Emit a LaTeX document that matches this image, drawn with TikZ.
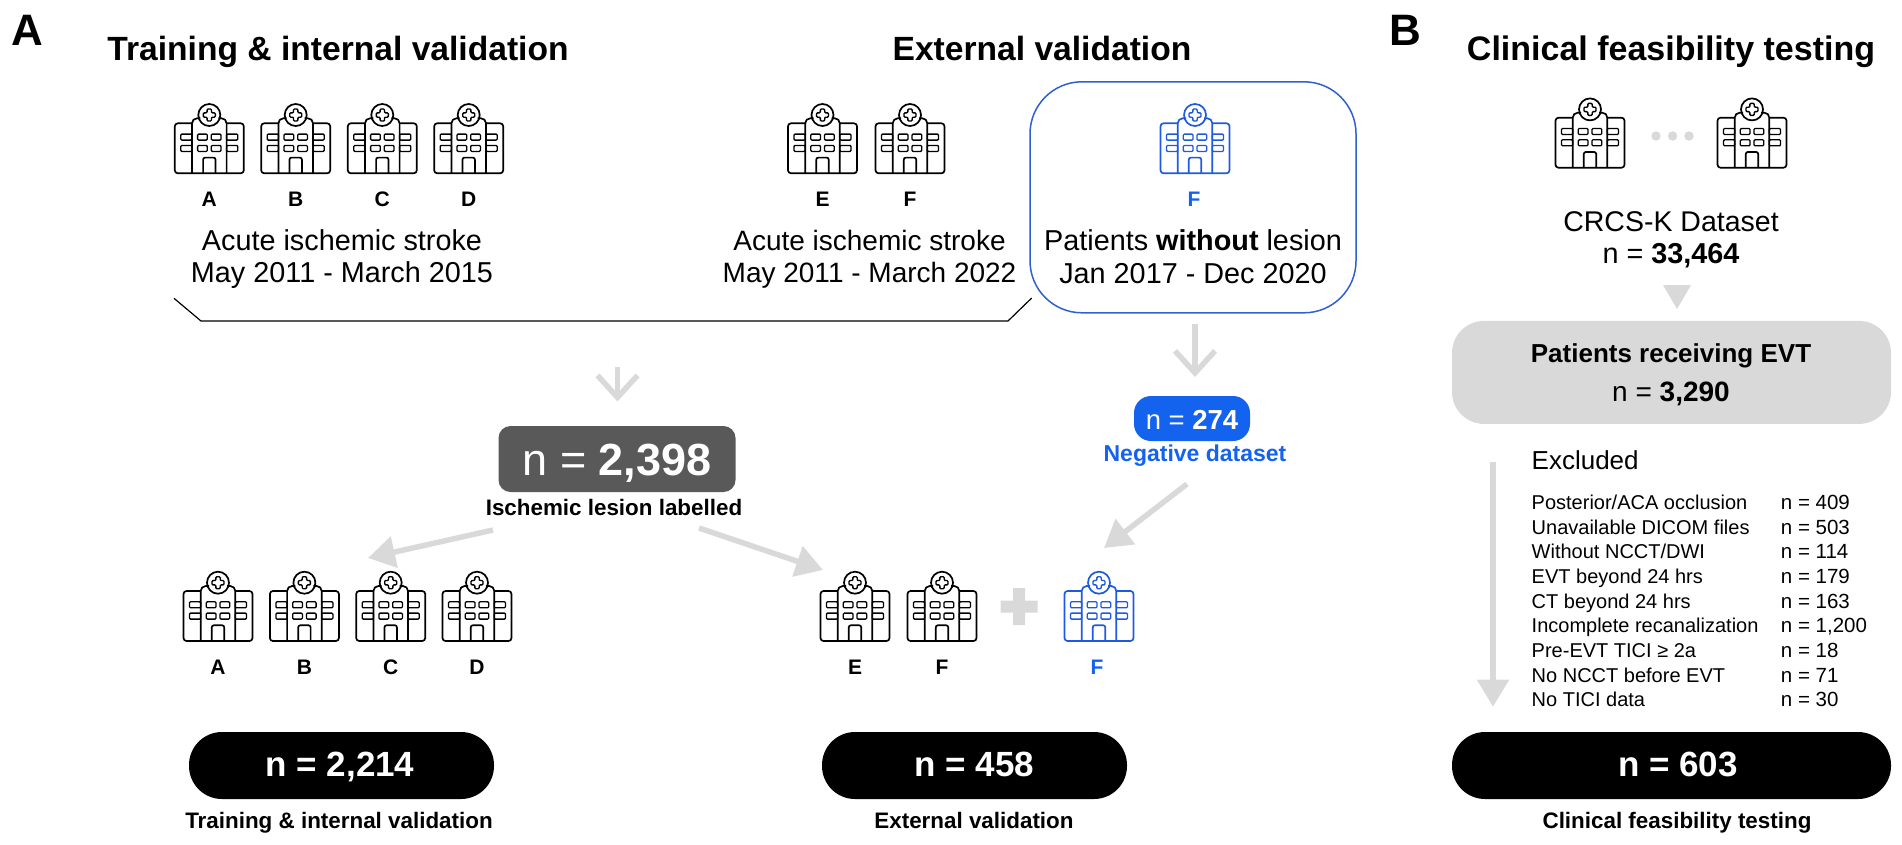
\documentclass[tikz,border=0pt]{standalone}
\usepackage{fontspec}
\setmainfont{Liberation Sans}
\usetikzlibrary{arrows.meta}
\definecolor{bluea}{HTML}{1463EE}
\definecolor{blueb}{HTML}{2F5FD0}
\definecolor{bluec}{HTML}{1E5AE0}
\definecolor{lgray}{HTML}{D9D9D9}
\definecolor{dgray}{HTML}{595959}
\newcommand{\fsz}[1]{\fontsize{#1}{#1}\selectfont}
\tikzset{
  x=1pt,y=-1pt,
  txt/.style={inner sep=0pt,anchor=base,align=center,text=black},
  title/.style={txt,font=\fsz{33.6}\bfseries},
  panel/.style={txt,font=\fsz{44}\bfseries},
  desc/.style={txt,font=\fsz{28.8}},
  letter/.style={txt,font=\fsz{21}\bfseries},
  capt/.style={txt,font=\fsz{22.4}\bfseries},
  row/.style={inner sep=0pt,anchor=base west,font=\fsz{20}},
  rowv/.style={inner sep=0pt,anchor=base west,font=\fsz{20.5}},
  pill/.style={fill=black,rounded corners=33pt,inner sep=0pt,anchor=center},
  pilltxt/.style={txt,text=white,font=\fsz{35}\bfseries},
  ghead/.style={draw=lgray,line width=5.5pt,-{Triangle[length=27pt,width=31pt,fill=lgray]}},
  gopen/.style={draw=lgray,line width=5.5pt,-{Straight Barb[length=22pt,width=40pt,line width=5.5pt,color=lgray]}},
  pics/hosp/.style={code={
    \begin{scope}[draw=#1,line width=1.7pt,line join=round,x=1pt,y=-1pt]
      \draw[rounded corners=3pt] (-17.3,-50) -- (-34.5,-50) -- (-34.5,0) -- (34.5,0) -- (34.5,-50) -- (17.3,-50);
      \draw[rounded corners=5pt] (-17.3,0) -- (-17.3,-55) -- (-9,-55);
      \draw[rounded corners=5pt] (17.3,0) -- (17.3,-55) -- (9,-55);
      \draw (0,-58.3) circle (11);
      \draw[rounded corners=1pt,line width=1.4pt] (-2.2,-64.3) -- (2.2,-64.3) -- (2.2,-60.5) -- (6,-60.5) -- (6,-56.1) -- (2.2,-56.1) -- (2.2,-52.3) -- (-2.2,-52.3) -- (-2.2,-56.1) -- (-6,-56.1) -- (-6,-60.5) -- (-2.2,-60.5) -- cycle;
      \foreach \yy in {-39.2,-27.9} {
        \draw[rounded corners=1pt,line width=1.3pt] (-28.5,\yy) rectangle (-17.3,{\yy+6});
        \draw[rounded corners=1pt,line width=1.3pt] (28.5,\yy) rectangle (17.3,{\yy+6});
        \draw[rounded corners=1pt,line width=1.3pt] (-11.7,\yy) rectangle (-2,{\yy+6});
        \draw[rounded corners=1pt,line width=1.3pt] (11.7,\yy) rectangle (2,{\yy+6});
      }
      \draw[rounded corners=2pt] (-6.2,0) -- (-6.2,-15.7) -- (6.2,-15.7) -- (6.2,0);
    \end{scope}
  }},
}
\begin{document}
\begin{tikzpicture}
\useasboundingbox (0,0) rectangle (1902,844);
% panel letters and titles
\node[panel] (pa) at (27,45) {A};
\node[panel] (pb) at (1405,45) {B};
\node[title] (t1) at (338,60.7) {Training \& internal validation};
\node[title] (t2) at (1042,60.7) {External validation};
\node[title,font=\fsz{34}\bfseries] (t3) at (1671,60.7) {Clinical feasibility testing};
% row 1 icons
\foreach \n/\xx/\l in {a/209.3/A,b/295.7/B,c/382.3/C,d/468.7/D,e/822.5/E,f/910/F} {
  \pic at (\xx,173.3) {hosp=black};
  \node[letter] (l\n) at (\xx,206) {\l};
}
% blue box
\node[draw=blueb,line width=1.5pt,rounded corners=52pt,minimum width=326pt,minimum height=231pt,inner sep=0pt] (nb) at (1193,197.3) {};
\pic at (1195,173.3) {hosp=bluec};
\node[letter,text=bluea] (lfb) at (1194,206.5) {F};
\node[desc] (d1) at (342,250.7) {Acute ischemic stroke};
\node[desc] (d2) at (342,282.7) {May 2011 - March 2015};
\node[desc,font=\fsz{28}] (d3) at (869.5,250.7) {Acute ischemic stroke};
\node[desc,font=\fsz{28}] (d4) at (869.5,282.7) {May 2011 - March 2022};
\node[desc] (d5) at (1193,250.5) {Patients \textbf{without} lesion};
\node[desc] (d6) at (1193,283) {Jan 2017 - Dec 2020};
% bracket
\coordinate (b1) at (174,298.3);
\coordinate (b2) at (201,321);
\coordinate (b3) at (1008,321);
\coordinate (b4) at (1031.7,298);
\draw[line width=1.2pt] (b1) -- (b2) -- (b3) -- (b4);
% centre
\node[fill=dgray,rounded corners=12pt,minimum width=237pt,minimum height=66pt,inner sep=0pt] (nc) at (617,459) {};
\node[txt,text=white,font=\fsz{45}] at (617,475) {n = \textbf{2,398}};
\node[capt] (lc) at (614,515) {Ischemic lesion labelled};
\node[fill=bluea,rounded corners=17pt,minimum width=116pt,minimum height=45pt,inner sep=0pt] (nn) at (1192,418.5) {};
\node[txt,text=white,font=\fsz{27.5}] at (1192,429) {n = \textbf{274}};
\node[capt,text=bluea,font=\fsz{23}\bfseries] (ln) at (1195,461) {Negative dataset};
\coordinate (a1s) at (617.5,367);
\coordinate (a1e) at (617.5,401.5);
\coordinate (a2s) at (1195,324);
\coordinate (a2e) at (1195,377);
\draw[gopen] (a1s) -- (a1e);
\draw[gopen] (a2s) -- (a2e);
\coordinate (a3s) at (493,530);
\coordinate (a3e) at (368,558);
\coordinate (a4s) at (699,528);
\coordinate (a4e) at (823,570);
\coordinate (a5s) at (1187,484);
\coordinate (a5e) at (1104,548);
\draw[ghead] (a3s) -- (a3e);
\draw[ghead] (a4s) -- (a4e);
\draw[ghead] (a5s) -- (a5e);
% row 2
\foreach \n/\xx/\l in {a/218/A,b/304.4/B,c/390.7/C,d/477/D,e/855/E,f/942/F} {
  \pic at (\xx,641) {hosp=black};
  \node[letter] (m\n) at (\xx,674) {\l};
}
\pic at (1099,641) {hosp=bluec};
\node[letter,text=bluea] (mfb) at (1097,674) {F};
\fill[lgray] (1019,606.7) +(-18.5,-6) rectangle +(18.5,6) +(-6,-18.5) rectangle +(6,18.5);
% pills
\node[pill,minimum width=305pt,minimum height=67pt] (p1) at (341.5,765.5) {};
\node[pilltxt] at (340,776.7) {n = 2,214};
\node[pill,minimum width=305pt,minimum height=67pt] (p2) at (974.5,765.5) {};
\node[pilltxt] at (974.5,776.7) {n = 458};
\node[pill,minimum width=439pt,minimum height=67pt] (p3) at (1671.5,765.5) {};
\node[pilltxt] at (1678,776.7) {n = 603};
\node[capt] (c1) at (339,828.3) {Training \& internal validation};
\node[capt] (c2) at (974,828.3) {External validation};
\node[capt] (c3) at (1677,828.3) {Clinical feasibility testing};
% panel B
\pic at (1590,167.7) {hosp=black};
\pic at (1752,167.7) {hosp=black};
\foreach \xx in {1656,1672.6,1689} \fill[lgray] (\xx,136) circle (4.7);
\node[desc,font=\fsz{28.5}] (cr) at (1671,231.5) {CRCS-K Dataset};
\node[desc] (cn) at (1671,263.3) {n = \textbf{33,464}};
\coordinate (tr) at (1677,309);
\fill[lgray] (1663,285) -- (1691,285) -- (tr) -- cycle;
\node[fill=lgray,rounded corners=32pt,minimum width=439pt,minimum height=103pt,inner sep=0pt] (gb) at (1671.5,372.4) {};
\node[txt,font=\fsz{26}\bfseries] at (1671,362.7) {Patients receiving EVT};
\node[txt,font=\fsz{28}] at (1671,401) {n = \textbf{3,290}};
\node[txt,font=\fsz{26},anchor=base west] (ex) at (1531.5,469.3) {Excluded};
\coordinate (xs) at (1493,461.7);
\coordinate (xe) at (1493,706.7);
\draw[ghead] (xs) -- (xe);
\foreach \i/\t/\v in {0/Posterior\slash ACA occlusion/409,1/Unavailable DICOM files/503,2/Without NCCT\slash DWI/114,3/EVT beyond 24 hrs/179,4/CT beyond 24 hrs/163,5/Incomplete recanalization/{1,200},6/Pre-EVT TICI ≥ 2a/18,7/No NCCT before EVT/71,8/No TICI data/30} {
  \node[row] (r\i) at (1531.5,{509.5+24.65*\i}) {\t};
  \node[rowv] (v\i) at (1780.7,{509.5+24.65*\i}) {n = \v};
}
\end{tikzpicture}
\end{document}
